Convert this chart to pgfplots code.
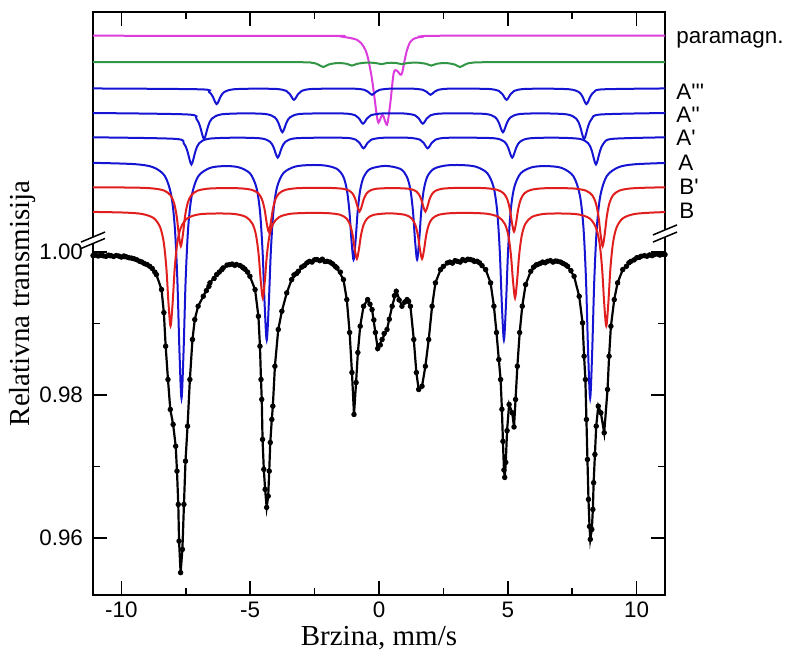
\documentclass[border=0pt]{standalone}
\usepackage{fontspec}
\setmainfont{Liberation Sans}
\newfontfamily\serif{Liberation Serif}
\usepackage{pgfplots}
\usepackage{pgfplotstable}
\pgfplotsset{compat=1.18}
\definecolor{cmag}{RGB}{220,60,220}
\definecolor{cgreen}{RGB}{50,150,70}
\definecolor{cblue}{RGB}{20,20,210}
\definecolor{cred}{RGB}{225,30,30}
\tikzset{lab/.style={anchor=base west, font=\fontsize{11.2}{13}\selectfont, inner sep=0pt}}
\newcommand{\pr}{\textquotesingle}
\pgfplotstableread{
x y
-11.10 0.99951
-10.46 0.99951
-9.87 0.99937
-9.29 0.99871
-8.90 0.99801
-8.64 0.99685
-8.44 0.99475
-8.35 0.99153
-8.28 0.98682
-8.19 0.98216
-8.10 0.97797
-7.99 0.97587
-7.89 0.97283
-7.84 0.96934
-7.79 0.96468
-7.76 0.95955
-7.70 0.95513
-7.63 0.95839
-7.57 0.96468
-7.51 0.97074
-7.43 0.97563
-7.34 0.98216
-7.24 0.98776
-7.15 0.99055
-7.02 0.99242
-6.82 0.99381
-6.56 0.99569
-6.30 0.99685
-6.05 0.99778
-5.79 0.99825
-5.53 0.99825
-5.27 0.99778
-5.01 0.99661
-4.81 0.99475
-4.68 0.99102
-4.62 0.98682
-4.58 0.98216
-4.55 0.97937
-4.52 0.97377
-4.47 0.96958
-4.42 0.96678
-4.36 0.96426
-4.30 0.96584
-4.26 0.96934
-4.22 0.97335
-4.16 0.97657
-4.12 0.97843
-4.04 0.98402
-3.91 0.98916
-3.77 0.99172
-3.58 0.99429
-3.39 0.99615
-3.13 0.99731
-2.80 0.99848
-2.41 0.99895
-2.02 0.99871
-1.63 0.99778
-1.38 0.99615
-1.25 0.99335
-1.14 0.98874
-1.05 0.98314
-0.97 0.97727
-0.89 0.98174
-0.82 0.98594
-0.73 0.98962
-0.60 0.99242
-0.44 0.99335
-0.27 0.99195
-0.14 0.98874
-0.05 0.98650
0.12 0.98776
0.31 0.98916
0.51 0.99242
0.67 0.99451
0.89 0.99242
1.09 0.99335
1.22 0.99242
1.35 0.98776
1.45 0.98314
1.54 0.98077
1.67 0.98123
1.80 0.98402
1.93 0.98776
2.06 0.99242
2.19 0.99569
2.39 0.99755
2.65 0.99848
3.04 0.99871
3.55 0.99895
3.81 0.99871
4.14 0.99755
4.33 0.99569
4.46 0.99242
4.56 0.98874
4.65 0.98496
4.72 0.98216
4.77 0.97800
4.81 0.97350
4.85 0.96950
4.88 0.96846
4.92 0.97056
4.97 0.97500
5.05 0.97867
5.17 0.97751
5.24 0.97552
5.30 0.97937
5.37 0.98402
5.46 0.98874
5.56 0.99242
5.69 0.99545
5.89 0.99731
6.15 0.99825
6.54 0.99871
6.93 0.99871
7.32 0.99801
7.57 0.99661
7.77 0.99381
7.90 0.99009
7.96 0.98542
8.01 0.98216
8.05 0.97657
8.09 0.97097
8.13 0.96538
8.17 0.96160
8.20 0.95979
8.26 0.96118
8.30 0.96398
8.33 0.96772
8.38 0.97167
8.43 0.97563
8.51 0.97843
8.61 0.97751
8.74 0.97471
8.87 0.98077
8.93 0.98542
9.00 0.98962
9.13 0.99335
9.26 0.99569
9.46 0.99755
9.78 0.99871
10.17 0.99941
10.68 0.99965
11.10 0.99965
}\spectrum
\pgfplotstableread{
x y
-11.0 0.99958
-10.9 0.99945
-10.8 0.99955
-10.7 0.99948
-10.6 0.99940
-10.5 0.99956
-10.4 0.99950
-10.3 0.99938
-10.2 0.99952
-10.1 0.99944
-10.0 0.99930
-9.9 0.99945
-9.8 0.99932
-9.7 0.99920
-9.6 0.99915
-9.5 0.99905
-9.4 0.99892
-9.2 0.99860
-9.1 0.99838
-9.0 0.99825
-8.8 0.99770
-8.7 0.99720
-6.7 0.99460
-6.6 0.99520
-6.4 0.99630
-6.2 0.99720
-6.1 0.99755
-5.9 0.99818
-5.7 0.99832
-5.6 0.99815
-5.4 0.99812
-5.3 0.99790
-5.2 0.99760
-5.1 0.99720
-3.3 0.99680
-3.2 0.99700
-3.0 0.99790
-2.9 0.99810
-2.7 0.99870
-2.6 0.99860
-2.5 0.99892
-2.3 0.99880
-2.2 0.99900
-2.1 0.99868
-1.9 0.99860
-1.8 0.99835
-1.7 0.99800
-1.5 0.99720
-0.35 0.99270
-0.2 0.99050
0.05 0.98700
0.2 0.98860
0.4 0.99060
0.6 0.99390
0.78 0.99330
1.0 0.99300
1.15 0.99310
2.5 0.99800
2.75 0.99860
2.85 0.99845
2.95 0.99880
3.15 0.99860
3.25 0.99895
3.35 0.99880
3.45 0.99900
3.65 0.99885
3.7 0.99870
3.9 0.99850
4.0 0.99810
6.0 0.99790
6.1 0.99820
6.25 0.99840
6.35 0.99860
6.45 0.99850
6.65 0.99880
6.75 0.99860
6.85 0.99875
7.05 0.99860
7.15 0.99840
7.25 0.99820
7.45 0.99740
9.6 0.99800
9.7 0.99850
9.9 0.99890
10.0 0.99920
10.1 0.99925
10.3 0.99950
10.4 0.99942
10.5 0.99960
10.6 0.99950
10.8 0.99972
10.9 0.99958
11.0 0.99968
}\extra
\begin{document}
\begin{tikzpicture}
\begin{axis}[
 scale only axis, width=286pt, height=291.5pt,
 xmin=-11.1, xmax=11.1, ymin=0.952, ymax=1.0336,
 xtick={-10,-5,0,5,10}, minor xtick={-7.5,-2.5,2.5,7.5},
 ytick={0.96,0.98,1.00}, minor ytick={0.97,0.99},
 tick align=inside, major tick length=7pt, minor tick length=3.5pt,
 every tick/.style={line width=0.75pt, black},
 axis line style={line width=0.75pt},
 /pgf/number format/assume math mode=true,
 ticklabel style={font=\fontsize{11.2}{13}\selectfont},
 yticklabel style={/pgf/number format/fixed, /pgf/number format/fixed zerofill, /pgf/number format/precision=2, xshift=-1.5pt},
 xlabel={Brzina, mm/s}, ylabel={Relativna transmisija},
 xlabel style={font=\serif\fontsize{14.5}{16}\selectfont, at={(axis description cs:0.5,-0.0858)}, anchor=base},
 ylabel style={font=\serif\fontsize{14.5}{16}\selectfont, at={(axis description cs:-0.124,0.5)}, anchor=center},
 clip mode=individual,
]
% paramagnetic
\addplot[cmag, line width=1pt, smooth] coordinates {(-11.1,1.03028) (-2.0,1.03025) (-1.5,1.03018) (-0.86,1.02972) (-0.6,1.02878) (-0.45,1.02748) (-0.3,1.02483) (-0.2,1.02231) (-0.1,1.01951) (-0.02,1.01811) (0.14,1.01923) (0.31,1.01783) (0.44,1.02087) (0.57,1.02506) (0.70,1.02538) (0.87,1.02483) (1.0,1.02692) (1.09,1.02832) (1.22,1.02944) (1.4,1.02993) (1.7,1.03013) (2.5,1.03028) (11.1,1.03028)};
% green
\addplot[cgreen, line width=1pt, smooth] coordinates {(-11.1,1.02660) (-3.5,1.02658) (-2.61,1.02649) (-2.36,1.02625) (-2.16,1.02590) (-1.96,1.02625) (-1.605,1.02646) (-1.25,1.02635) (-1.05,1.02610) (-0.85,1.02635) (-0.48,1.02652) (-0.11,1.02645) (0.09,1.02630) (0.29,1.02645) (0.49,1.02650) (0.69,1.02645) (0.89,1.02630) (1.09,1.02645) (1.46,1.02652) (1.83,1.02635) (2.03,1.02610) (2.23,1.02635) (2.585,1.02646) (2.94,1.02625) (3.14,1.02590) (3.34,1.02625) (3.59,1.02649) (4.5,1.02658) (11.1,1.02660)};
% A'''
\addplot[cblue, line width=1pt, smooth] coordinates {(-11.1,1.02290) (-6.95,1.02278) (-6.60,1.02242) (-6.46,1.02181) (-6.30,1.02071) (-6.14,1.02181) (-6.00,1.02242) (-5.65,1.02278) (-4.80,1.02287) (-3.95,1.02282) (-3.60,1.02256) (-3.46,1.02211) (-3.30,1.02131) (-3.14,1.02211) (-3.00,1.02256) (-2.65,1.02282) (-1.785,1.02287) (-0.92,1.02286) (-0.57,1.02271) (-0.43,1.02246) (-0.27,1.02201) (-0.11,1.02246) (0.03,1.02271) (0.38,1.02286) (0.865,1.02287) (1.35,1.02286) (1.70,1.02271) (1.84,1.02246) (2.00,1.02201) (2.16,1.02246) (2.30,1.02271) (2.65,1.02286) (3.475,1.02287) (4.30,1.02282) (4.65,1.02256) (4.79,1.02211) (4.95,1.02131) (5.11,1.02211) (5.25,1.02256) (5.60,1.02282) (6.50,1.02287) (7.40,1.02278) (7.75,1.02242) (7.89,1.02181) (8.05,1.02071) (8.21,1.02181) (8.35,1.02242) (8.70,1.02278) (11.1,1.02290)};
% A''
\addplot[cblue, line width=1pt, smooth] coordinates {(-11.1,1.01946) (-7.44,1.01926) (-7.09,1.01866) (-6.95,1.01765) (-6.79,1.01583) (-6.63,1.01765) (-6.49,1.01866) (-6.14,1.01926) (-5.27,1.01941) (-4.40,1.01932) (-4.05,1.01887) (-3.91,1.01812) (-3.75,1.01677) (-3.59,1.01812) (-3.45,1.01887) (-3.10,1.01932) (-2.185,1.01941) (-1.27,1.01938) (-0.92,1.01914) (-0.78,1.01872) (-0.62,1.01797) (-0.46,1.01872) (-0.32,1.01914) (0.03,1.01938) (0.54,1.01941) (1.05,1.01938) (1.40,1.01914) (1.54,1.01872) (1.70,1.01797) (1.86,1.01872) (2.00,1.01914) (2.35,1.01938) (3.255,1.01941) (4.16,1.01932) (4.51,1.01887) (4.65,1.01812) (4.81,1.01677) (4.97,1.01812) (5.11,1.01887) (5.46,1.01932) (6.385,1.01941) (7.31,1.01926) (7.66,1.01866) (7.80,1.01765) (7.96,1.01583) (8.12,1.01765) (8.26,1.01866) (8.61,1.01926) (11.1,1.01946)};
% A'
\addplot[cblue, line width=1pt, smooth] coordinates {(-11.1,1.01606) (-7.93,1.01585) (-7.58,1.01523) (-7.44,1.01417) (-7.28,1.01227) (-7.12,1.01417) (-6.98,1.01523) (-6.63,1.01585) (-5.6,1.01601) (-4.58,1.01591) (-4.23,1.01544) (-4.09,1.01464) (-3.93,1.01322) (-3.77,1.01464) (-3.63,1.01544) (-3.28,1.01591) (-2.27,1.01601) (-1.25,1.01598) (-0.90,1.01573) (-0.76,1.01530) (-0.60,1.01452) (-0.44,1.01530) (-0.30,1.01573) (0.05,1.01598) (0.645,1.01601) (1.24,1.01598) (1.59,1.01573) (1.73,1.01530) (1.89,1.01452) (2.05,1.01530) (2.19,1.01573) (2.54,1.01598) (3.53,1.01601) (4.52,1.01591) (4.87,1.01544) (5.01,1.01464) (5.17,1.01322) (5.33,1.01464) (5.47,1.01544) (5.82,1.01591) (6.80,1.01601) (7.77,1.01585) (8.12,1.01523) (8.26,1.01417) (8.42,1.01227) (8.58,1.01417) (8.72,1.01523) (9.07,1.01585) (11.1,1.01606)};
% A
\addplot[cblue, line width=1pt, smooth] coordinates {(-11.1,1.01249) (-9.5,1.01231) (-8.765,1.01187) (-8.315,1.01066) (-8.065,1.00798) (-7.925,1.00346) (-7.825,0.99603) (-7.745,0.98613) (-7.665,0.97953) (-7.585,0.98612) (-7.505,0.99602) (-7.405,1.00344) (-7.265,1.00795) (-7.015,1.01061) (-6.565,1.01177) (-6.01,1.01203) (-5.458,1.01188) (-5.008,1.01102) (-4.758,1.00904) (-4.618,1.00566) (-4.518,1.00007) (-4.438,0.99264) (-4.358,0.98768) (-4.278,0.99265) (-4.198,1.00009) (-4.098,1.00569) (-3.958,1.00907) (-3.708,1.01106) (-3.258,1.01196) (-2.673,1.01218) (-2.088,1.01211) (-1.638,1.01165) (-1.388,1.01058) (-1.248,1.00873) (-1.148,1.00569) (-1.068,1.00163) (-0.988,0.99893) (-0.908,1.00163) (-0.828,1.00569) (-0.728,1.00872) (-0.588,1.01056) (-0.338,1.01164) (0.246,1.01206) (0.829,1.01164) (1.079,1.01056) (1.219,1.00872) (1.319,1.00569) (1.399,1.00163) (1.479,0.99893) (1.559,1.00163) (1.639,1.00569) (1.739,1.00873) (1.879,1.01058) (2.129,1.01165) (2.579,1.01211) (3.164,1.01218) (3.748,1.01196) (4.198,1.01106) (4.448,1.00907) (4.588,1.00569) (4.688,1.00009) (4.768,0.99265) (4.848,0.98768) (4.928,0.99264) (5.008,1.00007) (5.108,1.00566) (5.248,1.00904) (5.498,1.01102) (5.948,1.01188) (6.52,1.01203) (7.095,1.01177) (7.545,1.01061) (7.795,1.00795) (7.935,1.00344) (8.035,0.99602) (8.115,0.98612) (8.195,0.97953) (8.275,0.98613) (8.355,0.99603) (8.455,1.00346) (8.595,1.00798) (8.845,1.01066) (9.295,1.01187) (9.9,1.01228) (11.1,1.01247)};
% B'
\addplot[cred, line width=1pt, smooth] coordinates {(-11.1,1.00907) (-9.49,1.00902) (-8.79,1.00891) (-8.34,1.00861) (-8.09,1.00794) (-7.95,1.00681) (-7.85,1.00495) (-7.77,1.00248) (-7.69,1.00083) (-7.61,1.00247) (-7.53,1.00495) (-7.43,1.00680) (-7.29,1.00793) (-7.04,1.00860) (-6.59,1.00889) (-5.985,1.00895) (-5.38,1.00892) (-4.93,1.00870) (-4.68,1.00821) (-4.54,1.00736) (-4.44,1.00596) (-4.36,1.00410) (-4.28,1.00286) (-4.20,1.00411) (-4.12,1.00597) (-4.02,1.00737) (-3.88,1.00821) (-3.63,1.00871) (-3.18,1.00894) (-2.52,1.00899) (-1.855,1.00897) (-1.405,1.00886) (-1.155,1.00859) (-1.015,1.00813) (-0.915,1.00737) (-0.835,1.00635) (-0.755,1.00568) (-0.675,1.00635) (-0.595,1.00737) (-0.495,1.00813) (-0.355,1.00859) (-0.105,1.00886) (0.52,1.00896) (1.15,1.00886) (1.40,1.00859) (1.54,1.00813) (1.64,1.00737) (1.72,1.00635) (1.80,1.00568) (1.88,1.00635) (1.96,1.00737) (2.06,1.00813) (2.20,1.00859) (2.45,1.00886) (2.90,1.00897) (3.52,1.00899) (4.14,1.00894) (4.59,1.00871) (4.84,1.00821) (4.98,1.00737) (5.08,1.00597) (5.16,1.00411) (5.24,1.00286) (5.32,1.00410) (5.40,1.00596) (5.50,1.00736) (5.64,1.00821) (5.89,1.00870) (6.34,1.00892) (6.96,1.00895) (7.58,1.00889) (8.03,1.00860) (8.28,1.00793) (8.42,1.00680) (8.52,1.00495) (8.60,1.00247) (8.68,1.00083) (8.76,1.00248) (8.84,1.00495) (8.94,1.00681) (9.08,1.00794) (9.33,1.00861) (9.78,1.00891) (10.48,1.00902) (11.1,1.00906)};
% B
\addplot[cred, line width=1pt, smooth] coordinates {(-11.1,1.00562) (-9.89,1.00553) (-9.19,1.00533) (-8.74,1.00474) (-8.49,1.00344) (-8.35,1.00125) (-8.25,0.99764) (-8.17,0.99284) (-8.09,0.98964) (-8.01,0.99284) (-7.93,0.99764) (-7.83,1.00124) (-7.69,1.00342) (-7.44,1.00472) (-6.99,1.00528) (-6.30,1.00540) (-5.61,1.00533) (-5.16,1.00491) (-4.91,1.00395) (-4.77,1.00231) (-4.67,0.99960) (-4.59,0.99600) (-4.51,0.99359) (-4.43,0.99600) (-4.35,0.99961) (-4.25,1.00233) (-4.11,1.00397) (-3.86,1.00493) (-3.41,1.00537) (-2.685,1.00548) (-1.96,1.00544) (-1.51,1.00522) (-1.26,1.00470) (-1.12,1.00380) (-1.02,1.00233) (-0.94,1.00036) (-0.86,0.99905) (-0.78,1.00036) (-0.70,1.00233) (-0.60,1.00380) (-0.46,1.00469) (-0.21,1.00521) (0.405,1.00542) (1.02,1.00521) (1.27,1.00469) (1.41,1.00380) (1.51,1.00233) (1.59,1.00036) (1.67,0.99905) (1.75,1.00036) (1.83,1.00233) (1.93,1.00380) (2.07,1.00470) (2.32,1.00522) (2.77,1.00544) (3.475,1.00548) (4.18,1.00537) (4.63,1.00493) (4.88,1.00397) (5.02,1.00233) (5.12,0.99961) (5.20,0.99600) (5.28,0.99359) (5.36,0.99600) (5.44,0.99960) (5.54,1.00231) (5.68,1.00395) (5.93,1.00491) (6.38,1.00533) (7.05,1.00540) (7.72,1.00528) (8.17,1.00472) (8.42,1.00342) (8.56,1.00124) (8.66,0.99764) (8.74,0.99284) (8.82,0.98964) (8.90,0.99284) (8.98,0.99764) (9.08,1.00125) (9.22,1.00344) (9.47,1.00474) (9.92,1.00533) (10.62,1.00553) (11.1,1.00559)};
% measured spectrum and fit
\addplot[black, line width=1.1pt] table {\spectrum};
\addplot[black, only marks, mark=*, mark size=1.15pt] table {\spectrum};
\addplot[black, only marks, mark=*, mark size=1.15pt] table {\extra};
% labels
\node[lab, xshift=5.5pt] at (axis cs:11.1,1.02923) {paramagn.};
\node[lab, xshift=5.5pt] at (axis cs:11.1,1.02142) {A\pr\pr\pr};
\node[lab, xshift=5.5pt] at (axis cs:11.1,1.01815) {A\pr\pr};
\node[lab, xshift=5.5pt] at (axis cs:11.1,1.01489) {A\pr};
\node[lab, xshift=6.5pt] at (axis cs:11.1,1.01139) {A};
\node[lab, xshift=7pt] at (axis cs:11.1,1.00804) {B\pr};
\node[lab, xshift=7pt] at (axis cs:11.1,1.00464) {B};
% axis breaks
\fill[white] ([xshift=-2pt,yshift=-0.8pt]axis cs:-11.1,1.0012) -- ([xshift=2pt,yshift=0.8pt]axis cs:-11.1,1.0012) -- ([xshift=2pt,yshift=0.8pt]axis cs:-11.1,1.0021) -- ([xshift=-2pt,yshift=-0.8pt]axis cs:-11.1,1.0021) -- cycle;
\fill[white] ([xshift=-2pt,yshift=-0.8pt]axis cs:11.1,1.0021) -- ([xshift=2pt,yshift=0.8pt]axis cs:11.1,1.0021) -- ([xshift=2pt,yshift=0.8pt]axis cs:11.1,1.0031) -- ([xshift=-2pt,yshift=-0.8pt]axis cs:11.1,1.0031) -- cycle;
\draw[line width=0.75pt] ([xshift=-6pt,yshift=-2.5pt]axis cs:-11.1,1.0021) -- ([xshift=6pt,yshift=2.5pt]axis cs:-11.1,1.0021);
\draw[line width=0.75pt] ([xshift=-6pt,yshift=-2.5pt]axis cs:-11.1,1.0012) -- ([xshift=6pt,yshift=2.5pt]axis cs:-11.1,1.0012);
\draw[line width=0.75pt] ([xshift=-6pt,yshift=-2.5pt]axis cs:11.1,1.0031) -- ([xshift=6pt,yshift=2.5pt]axis cs:11.1,1.0031);
\draw[line width=0.75pt] ([xshift=-6pt,yshift=-2.5pt]axis cs:11.1,1.0021) -- ([xshift=6pt,yshift=2.5pt]axis cs:11.1,1.0021);
\end{axis}
\pgfresetboundingbox
\path[use as bounding box] (-46.5pt,-32.5pt) rectangle (349pt,297.5pt);
\end{tikzpicture}
\end{document}
